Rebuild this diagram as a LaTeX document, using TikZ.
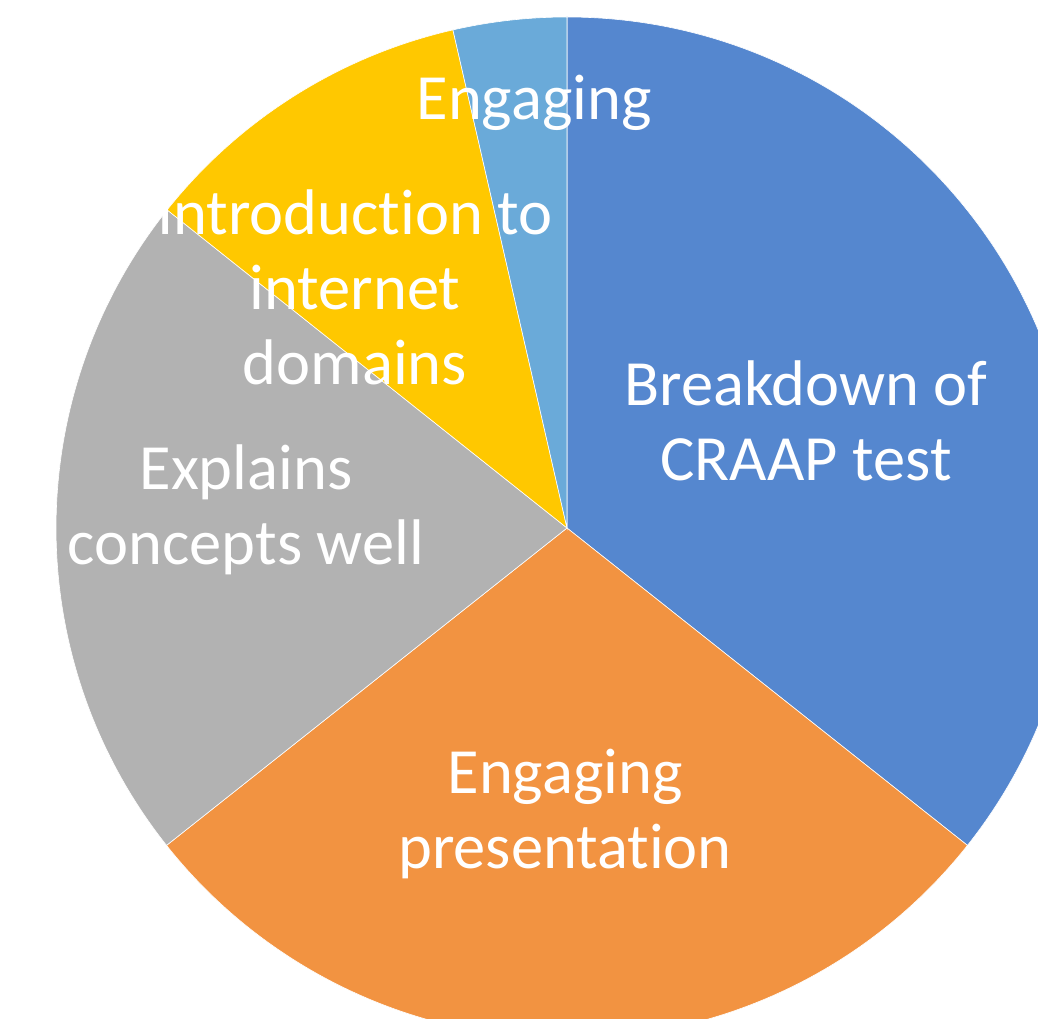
\documentclass[tikz,border=0pt]{standalone}
\usepackage{fontspec}
\setmainfont{Carlito}[RawFeature=-liga]
\definecolor{craap}{HTML}{5587CF}
\definecolor{present}{HTML}{F29341}
\definecolor{concepts}{HTML}{B2B2B2}
\definecolor{domains}{HTML}{FFC800}
\definecolor{engage}{HTML}{6AAAD9}
\begin{document}
\begin{tikzpicture}[x=1pt,y=1pt]
		\tikzset{slice/.style = {draw=white, line width=.6pt}}
		\tikzset{label/.style = {text=white, align=center, font=\fontsize{64.5}{75}\selectfont}}
		\useasboundingbox (-567,-490) rectangle (471,528);
		\filldraw[slice, fill=craap] (0,0) -- (90:511) arc (90:-38.4:511) -- cycle;
		\filldraw[slice, fill=present] (0,0) -- (-38.4:511) arc (-38.4:-141.6:511) -- cycle;
		\filldraw[slice, fill=concepts] (0,0) -- (-141.6:511) arc (-141.6:-218.5:511) -- cycle;
		\filldraw[slice, fill=domains] (0,0) -- (141.5:511) arc (141.5:102.9:511) -- cycle;
		\filldraw[slice, fill=engage] (0,0) -- (102.9:511) arc (102.9:90:511) -- cycle;
		\node[label] (breakdown) at (239,107) {Breakdown of\\CRAAP test};
		\node[label] (presentation) at (-2,-286) {Engaging\\presentation};
		\node[label] (explains) at (-321,18) {Explains\\concepts well};
		\node[label] (intro) at (-212,241) {Introduction to\\internet\\domains};
		\node[label] (engaging) at (-33,425) {Engaging};
	\end{tikzpicture}
\end{document}
